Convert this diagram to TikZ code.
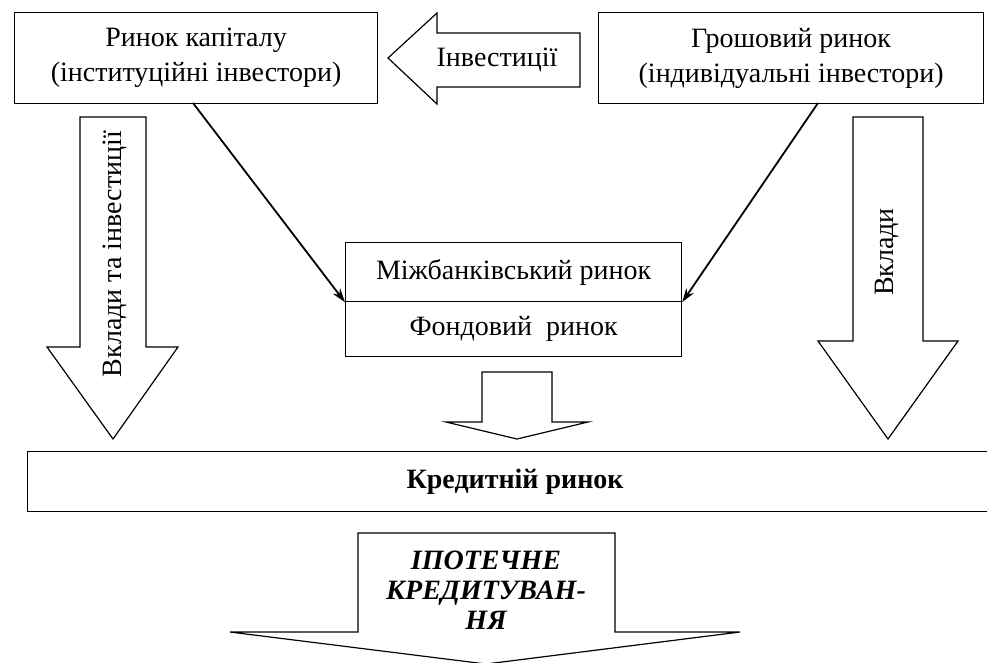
\documentclass[tikz,border=0pt]{standalone}
\usepackage{fontspec}
\setmainfont{Liberation Serif}
\usetikzlibrary{arrows.meta}
\begin{document}
\begin{tikzpicture}[x=1pt,y=-1pt,
  box/.style={draw,line width=1.2pt,inner sep=0pt,anchor=north west,align=center,font=\fontsize{28}{35}\selectfont},
  lbl/.style={font=\fontsize{28}{35}\selectfont,align=center,inner sep=0pt},
  blk/.style={draw,line width=1.2pt,fill=white,line join=miter},
  ln/.style={line width=1.8pt,-{Stealth[length=14pt,width=9pt]}}]
\useasboundingbox (0,0) rectangle (987,662);
\clip (0,0) rectangle (987,662);
% boxes
\node[box,minimum width=363pt,minimum height=91pt] (cap) at (14,12) {Ринок капіталу\\(інституційні інвестори)};
\node[box,minimum width=385pt,minimum height=91pt] (money) at (598,12) {Грошовий ринок\\(індивідуальні інвестори)};
\node[box,minimum width=336pt,minimum height=59pt] (mib) at (345,242) {Міжбанківський ринок};
\node[box,minimum width=336pt,minimum height=55pt] (fond) at (345,301) {Фондовий\ \ ринок};
\node[box,minimum width=975pt,minimum height=60pt,font=\fontsize{28}{35}\selectfont\bfseries] (cred) at (27,451) {Кредитній ринок};
% block arrows
\draw[blk] (388,58) -- (437,13) -- (437,33) -- (580,33) -- (580,87) -- (437,87) -- (437,104) -- cycle;
\node[lbl] (inv) at (497,60) {Інвестиції};
\draw[blk] (80,117) -- (146,117) -- (146,347) -- (178,347) -- (113,439) -- (47,347) -- (80,347) -- cycle;
\node[lbl,rotate=90] (vti) at (115,254) {Вклади та інвестиції};
\draw[blk] (853,117) -- (923,117) -- (923,341) -- (958,341) -- (888,439) -- (818,341) -- (853,341) -- cycle;
\node[lbl,rotate=90] (vkl) at (887,252) {Вклади};
\draw[blk] (482,372) -- (552,372) -- (552,422) -- (588,422) -- (517,439) -- (446,422) -- (482,422) -- cycle;
\draw[blk] (358,533) -- (615,533) -- (615,632) -- (740,632) -- (486,664) -- (230,632) -- (358,632) -- cycle;
\node[lbl,font=\fontsize{28}{30}\selectfont\bfseries\itshape] (ipo) at (486,590) {ІПОТЕЧНЕ\\КРЕДИТУВАН-\\НЯ};
% line arrows
\coordinate (s1) at (193,103);
\coordinate (s2) at (818,103);
\draw[ln] (s1) -- (mib.south west);
\draw[ln] (s2) -- (mib.south east);
\end{tikzpicture}
\end{document}
